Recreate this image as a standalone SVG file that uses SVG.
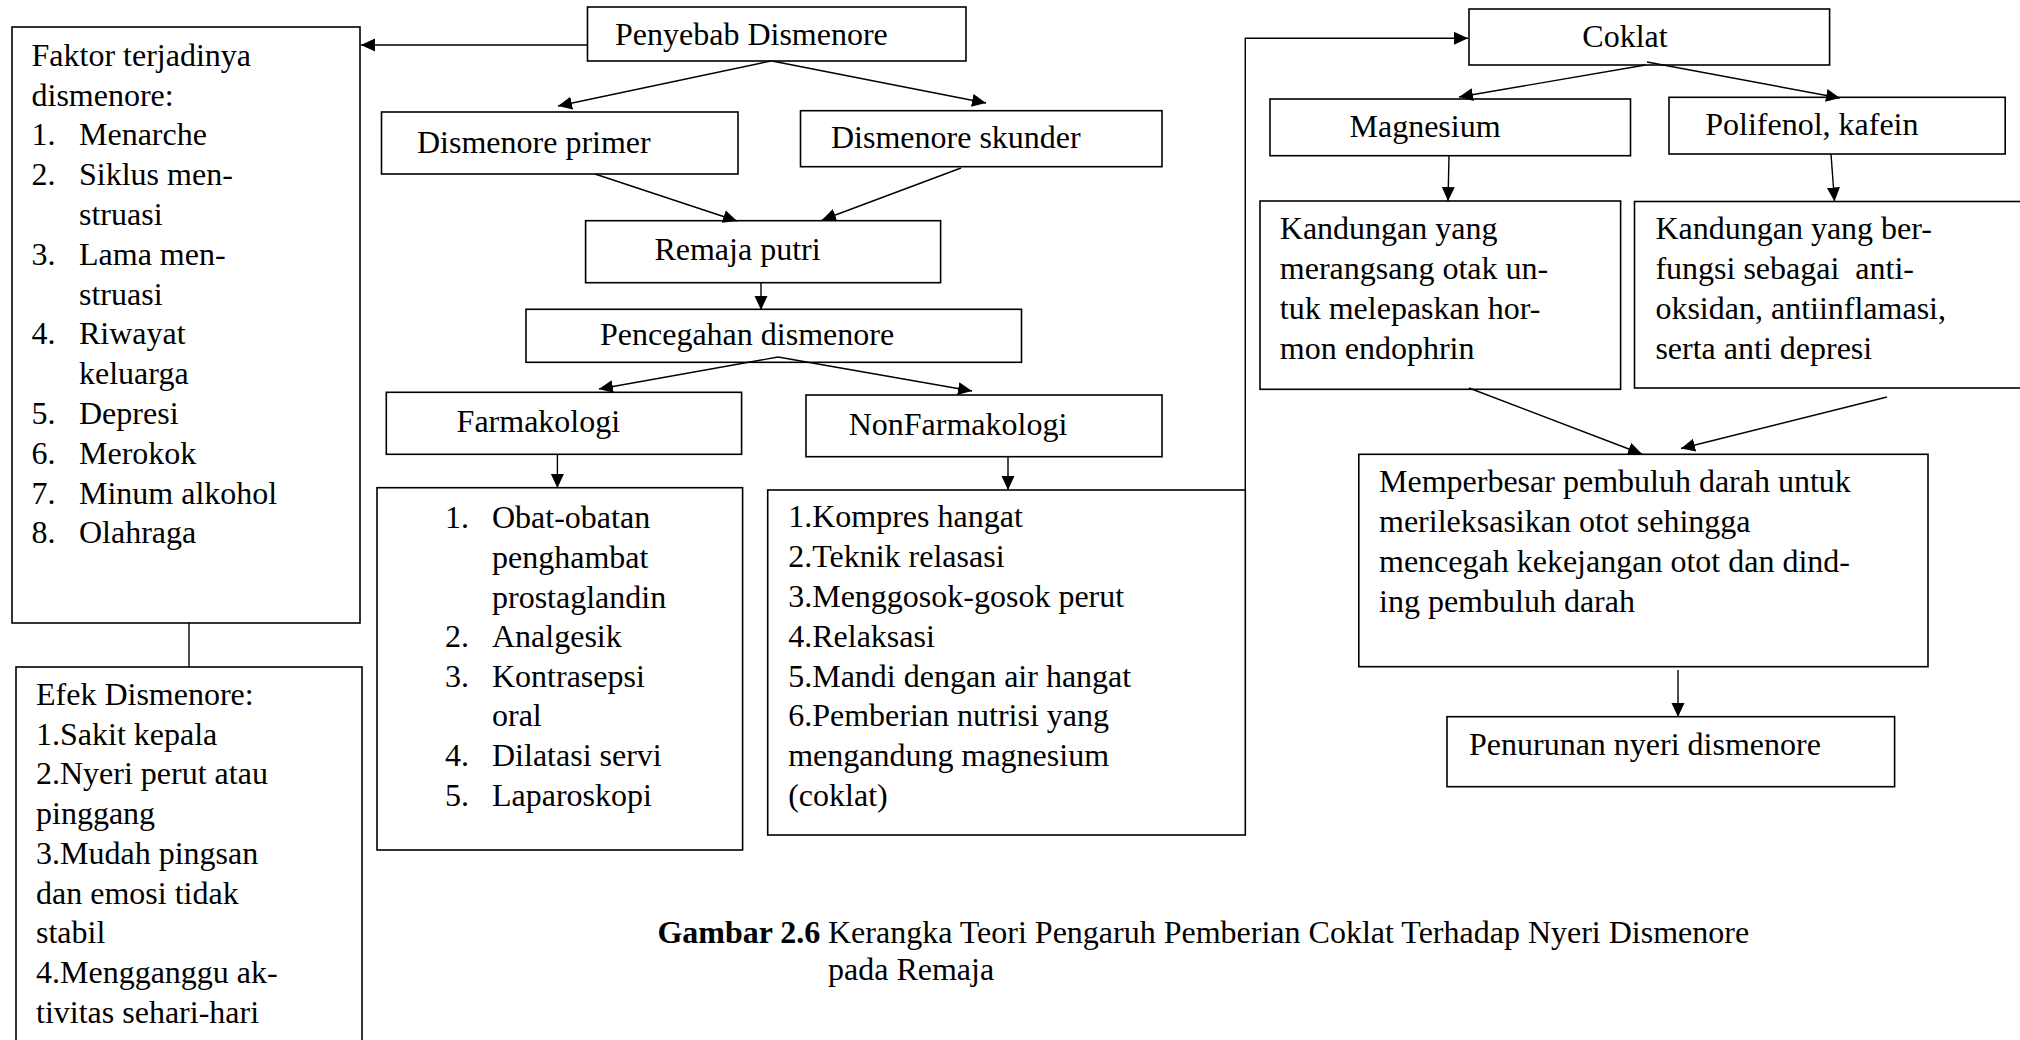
<svg xmlns="http://www.w3.org/2000/svg" width="2020" height="1040" viewBox="0 0 2020 1040">
<style>
rect.box{fill:#fff;stroke:#000;stroke-width:1.6}
text{font-family:"Liberation Serif","Times New Roman",serif;font-size:32px;fill:#000}
.b{font-weight:bold}
.c line,.c polyline{stroke:#000;stroke-width:1.4;fill:none}
.c .a{marker-end:url(#ah)}
</style>
<defs>
<marker id="ah" markerUnits="userSpaceOnUse" markerWidth="15" markerHeight="14" refX="14" refY="6.5" orient="auto" viewBox="0 0 15 14">
<path d="M0,0 L14,6.5 L0,13 z" fill="#000"/>
</marker>
</defs>
<rect width="2020" height="1040" fill="#fff"/>

<g id="faktor">
<rect class="box" x="12" y="27" width="348" height="596"/>
<text x="31.5" y="65.7">Faktor terjadinya</text>
<text x="31.5" y="105.5">dismenore:</text>
<text x="31.5" y="145.3">1.</text><text x="79" y="145.3">Menarche</text>
<text x="31.5" y="185.1">2.</text><text x="79" y="185.1">Siklus men-</text>
<text x="79" y="224.9">struasi</text>
<text x="31.5" y="264.7">3.</text><text x="79" y="264.7">Lama men-</text>
<text x="79" y="304.5">struasi</text>
<text x="31.5" y="344.3">4.</text><text x="79" y="344.3">Riwayat</text>
<text x="79" y="384.1">keluarga</text>
<text x="31.5" y="423.9">5.</text><text x="79" y="423.9">Depresi</text>
<text x="31.5" y="463.7">6.</text><text x="79" y="463.7">Merokok</text>
<text x="31.5" y="503.5">7.</text><text x="79" y="503.5">Minum alkohol</text>
<text x="31.5" y="543.3">8.</text><text x="79" y="543.3">Olahraga</text>
</g>

<g id="efek">
<rect class="box" x="16" y="667" width="346" height="390"/>
<text x="36" y="705">Efek Dismenore:</text>
<text x="36" y="744.7">1.Sakit kepala</text>
<text x="36" y="784.4">2.Nyeri perut atau</text>
<text x="36" y="824.1">pinggang</text>
<text x="36" y="863.8">3.Mudah pingsan</text>
<text x="36" y="903.5">dan emosi tidak</text>
<text x="36" y="943.2">stabil</text>
<text x="36" y="982.9">4.Mengganggu ak-</text>
<text x="36" y="1022.6">tivitas sehari-hari</text>
</g>

<g id="penyebab">
<rect class="box" x="587.5" y="7" width="378.5" height="54"/>
<text x="615" y="45">Penyebab Dismenore</text>
</g>

<g id="primer">
<rect class="box" x="381.5" y="112" width="356.5" height="62"/>
<text x="417" y="152.7">Dismenore primer</text>
</g>

<g id="skunder">
<rect class="box" x="800.5" y="110.7" width="361.5" height="56"/>
<text x="831" y="148.3">Dismenore skunder</text>
</g>

<g id="remaja">
<rect class="box" x="585.6" y="220.7" width="355" height="62"/>
<text x="654.4" y="260">Remaja putri</text>
</g>

<g id="pencegahan">
<rect class="box" x="526" y="309.3" width="495.5" height="53"/>
<text x="600" y="345">Pencegahan dismenore</text>
</g>

<g id="farmakologi">
<rect class="box" x="386.3" y="392.3" width="355.3" height="62"/>
<text x="456.6" y="431.7">Farmakologi</text>
</g>

<g id="nonfarmakologi">
<rect class="box" x="806" y="395" width="356" height="61.7"/>
<text x="848.7" y="435">NonFarmakologi</text>
</g>

<g id="farmakologi-list">
<rect class="box" x="377" y="487.7" width="365.6" height="362.3"/>
<text x="445" y="528.3">1.</text><text x="492" y="528.3">Obat-obatan</text>
<text x="492" y="567.9">penghambat</text>
<text x="492" y="607.5">prostaglandin</text>
<text x="445" y="647.1">2.</text><text x="492" y="647.1">Analgesik</text>
<text x="445" y="686.7">3.</text><text x="492" y="686.7">Kontrasepsi</text>
<text x="492" y="726.3">oral</text>
<text x="445" y="765.9">4.</text><text x="492" y="765.9">Dilatasi servi</text>
<text x="445" y="805.5">5.</text><text x="492" y="805.5">Laparoskopi</text>
</g>

<g id="nonfarmakologi-list">
<rect class="box" x="767.7" y="490" width="477.6" height="345"/>
<text x="788.2" y="527.3">1.Kompres hangat</text>
<text x="788.2" y="567.1">2.Teknik relasasi</text>
<text x="788.2" y="606.9">3.Menggosok-gosok perut</text>
<text x="788.2" y="646.7">4.Relaksasi</text>
<text x="788.2" y="686.5">5.Mandi dengan air hangat</text>
<text x="788.2" y="726.3">6.Pemberian nutrisi yang</text>
<text x="788.2" y="766.1">mengandung magnesium</text>
<text x="788.2" y="805.9">(coklat)</text>
</g>

<g id="coklat">
<rect class="box" x="1469" y="9" width="360.6" height="56"/>
<text x="1582.3" y="46.7">Coklat</text>
</g>

<g id="magnesium">
<rect class="box" x="1270" y="99" width="360.5" height="56.7"/>
<text x="1349.5" y="136.7">Magnesium</text>
</g>

<g id="polifenol">
<rect class="box" x="1669" y="97.3" width="336.2" height="56.7"/>
<text x="1705.2" y="135">Polifenol, kafein</text>
</g>

<g id="kandungan-magnesium">
<rect class="box" x="1260" y="201" width="360.6" height="188.3"/>
<text x="1279.8" y="239">Kandungan yang</text>
<text x="1279.8" y="279">merangsang otak un-</text>
<text x="1279.8" y="319">tuk melepaskan hor-</text>
<text x="1279.8" y="359">mon endophrin</text>
</g>

<g id="kandungan-polifenol">
<rect class="box" x="1634.5" y="201.5" width="400" height="186.5"/>
<text x="1655.4" y="238.5">Kandungan yang ber-</text>
<text x="1655.4" y="278.5" xml:space="preserve">fungsi sebagai  anti-</text>
<text x="1655.4" y="318.5">oksidan, antiinflamasi,</text>
<text x="1655.4" y="358.5">serta anti depresi</text>
</g>

<g id="memperbesar">
<rect class="box" x="1358.8" y="454.3" width="569.2" height="212.4"/>
<text x="1379" y="491.7">Memperbesar pembuluh darah untuk</text>
<text x="1379" y="531.7">merileksasikan otot sehingga</text>
<text x="1379" y="571.7">mencegah kekejangan otot dan dind-</text>
<text x="1379" y="611.7">ing pembuluh darah</text>
</g>

<g id="penurunan">
<rect class="box" x="1447" y="716.7" width="447.6" height="70"/>
<text x="1469" y="755">Penurunan nyeri dismenore</text>
</g>

<g id="caption">
<text class="b" x="657.4" y="943.3">Gambar 2.6</text>
<text x="828" y="943.3">Kerangka Teori Pengaruh Pemberian Coklat Terhadap Nyeri Dismenore</text>
<text x="828" y="980">pada Remaja</text>
</g>

<g id="connectors" class="c">
<line class="a" x1="587.5" y1="45" x2="361" y2="45"/>
<line class="a" x1="771" y1="61" x2="558" y2="106"/>
<line class="a" x1="772" y1="61" x2="986" y2="103"/>
<line class="a" x1="595" y1="174" x2="737" y2="221"/>
<line class="a" x1="961" y1="168" x2="822" y2="220"/>
<line class="a" x1="761" y1="283" x2="761" y2="310"/>
<line class="a" x1="778" y1="357" x2="599" y2="389"/>
<line class="a" x1="778" y1="357" x2="972" y2="391"/>
<line class="a" x1="557.4" y1="454.3" x2="557.4" y2="488"/>
<line class="a" x1="1008" y1="456.7" x2="1008" y2="490"/>
<polyline class="a" points="1245.3,490 1245.3,38.3 1468,38.3"/>
<line class="a" x1="1645.5" y1="65" x2="1459" y2="97"/>
<line class="a" x1="1647" y1="62" x2="1840" y2="98"/>
<line class="a" x1="1449" y1="155.7" x2="1448" y2="201"/>
<line class="a" x1="1831" y1="154" x2="1834.5" y2="201.5"/>
<line class="a" x1="1469" y1="388" x2="1642" y2="454"/>
<line class="a" x1="1887" y1="397" x2="1681" y2="448.5"/>
<line class="a" x1="1678" y1="670" x2="1678" y2="717"/>
<line x1="189" y1="623" x2="189" y2="667"/>
</g>
</svg>
